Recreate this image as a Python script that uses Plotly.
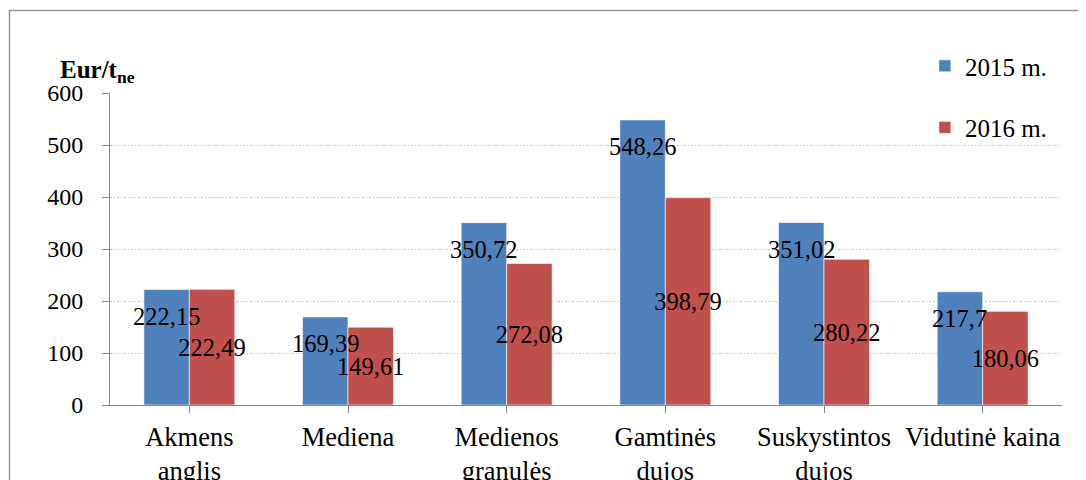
import plotly.graph_objects as go

categories = ["Akmens<br>anglis", "Mediena", "Medienos<br>granulės", "Gamtinės<br>dujos",
              "Suskystintos<br>dujos", "Vidutinė kaina"]
values_2015 = [222.15, 169.39, 350.72, 548.26, 351.02, 217.7]
values_2016 = [222.49, 149.61, 272.08, 398.79, 280.22, 180.06]
labels_2015 = ["222,15", "169,39", "350,72", "548,26", "351,02", "217,7"]
labels_2016 = ["222,49", "149,61", "272,08", "398,79", "280,22", "180,06"]
series_names = ["2015 m.", "2016 m."]
y_ticks = [0, 100, 200, 300, 400, 500, 600]

FONT = "'Liberation Serif', 'DejaVu Serif', serif"
BLUE = "#4F81BD"
RED = "#C0504D"
AXIS = "#868686"
BARGAP = 0.427
FS_LABEL = 24.5
FS_CAT = 26.5
FS_TICK = 24
FS_LEG = 25

fig = go.Figure()
fig.add_trace(go.Bar(
    x=list(range(len(categories))), y=values_2015, name=series_names[0],
    marker=dict(color=BLUE, line=dict(color="rgba(255,255,255,0.6)", width=1)),
    legendgroup="a", hoverinfo="skip",
))
fig.add_trace(go.Bar(
    x=list(range(len(categories))), y=values_2016, name=series_names[1],
    marker=dict(color=RED, line=dict(color="rgba(255,255,255,0.6)", width=1)),
    text=labels_2016, textposition="inside", insidetextanchor="middle",
    constraintext="none", textangle=0,
    insidetextfont=dict(family=FONT, size=FS_LABEL, color="black"),
    legendgroup="b", hoverinfo="skip", cliponaxis=False,
))

half = (1 - BARGAP) / 4
annotations = []
for i, (v, t) in enumerate(zip(values_2015, labels_2015)):
    annotations.append(dict(
        x=i - half, y=v, xref="x", yref="y", text=t, showarrow=False,
        yanchor="middle", xanchor="center", yshift=-27,
        font=dict(family=FONT, size=FS_LABEL, color="black"),
    ))
annotations.append(dict(
    x=-0.0545, y=1.012, xref="paper", yref="paper", xanchor="left", yanchor="bottom",
    text="<b>Eur/t<sub>ne</sub></b>", showarrow=False,
    font=dict(family=FONT, size=FS_LEG, color="black"),
))

# the page body adds an 8px offset; margins compensate for it
fig.update_layout(
    width=1086, height=480,
    margin=dict(l=102, r=32, t=85, b=83, autoexpand=False),
    paper_bgcolor="white", plot_bgcolor="white",
    barmode="group", bargap=BARGAP, bargroupgap=0,
    font=dict(family=FONT, size=FS_TICK, color="black"),
    showlegend=True,
    legend=dict(x=0.856, y=1.16, xanchor="left", yanchor="top",
                font=dict(family=FONT, size=FS_LEG, color="black"),
                tracegroupgap=26, bgcolor="rgba(0,0,0,0)"),
    annotations=annotations,
    shapes=[dict(type="rect", xref="paper", yref="paper",
                 x0=-0.1056, x1=1.05, y0=-0.4, y1=1.2644,
                 line=dict(color="#999999", width=1.5), layer="above")],
)
fig.update_xaxes(
    tickmode="array", tickvals=list(range(len(categories))), ticktext=categories,
    range=[-0.5, len(categories) - 0.5],
    showline=True, linecolor=AXIS, linewidth=1,
    ticks="outside", ticklen=7, tickcolor=AXIS, tickson="boundaries",
    showgrid=False, zeroline=False, ticklabelstandoff=1,
    tickfont=dict(family=FONT, size=FS_CAT, color="black"),
)
fig.update_yaxes(
    range=[0, 600], tickvals=y_ticks, ticktext=[str(v) for v in y_ticks],
    showline=True, linecolor=AXIS, linewidth=1,
    ticks="outside", ticklen=7, tickcolor=AXIS,
    showgrid=True, gridcolor="#BFBFBF", griddash="1.5px,2px", gridwidth=1,
    zeroline=False, ticklabelstandoff=14,
    tickfont=dict(family=FONT, size=FS_TICK, color="black"),
)

fig.write_html("out.html")
